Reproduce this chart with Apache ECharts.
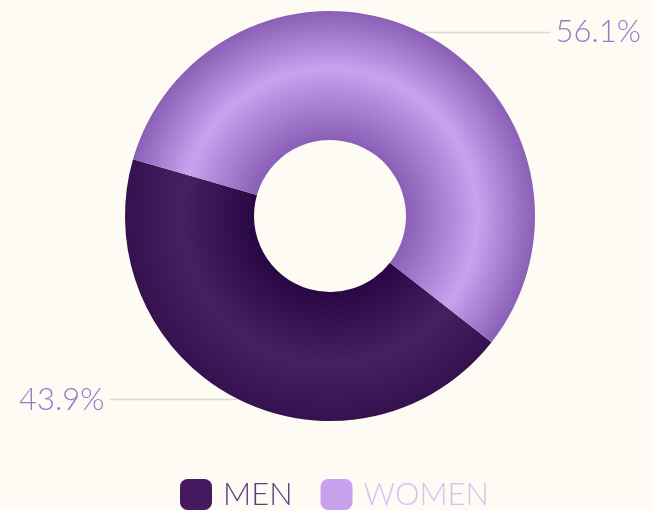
<!DOCTYPE html>
<html>
<head>
<meta charset="utf-8">
<script src="https://cdn.jsdelivr.net/npm/echarts@6/dist/echarts.min.js"></script>
<style>
html,body{margin:0;padding:0;background:#fdfbf4;}
#chart{width:652px;height:510px;}
</style>
</head>
<body>
<div id="chart"></div>
<script>
const categories = ['MEN', 'WOMEN'];
const values = [43.9, 56.1];
const legendTextColors = ['#5e3d7c', '#d9c0f1'];
const iconColors = ['#44195f', '#c8a0ec'];

const cx = 330, cy = 216, R = 205, r = 76;
function ring(inner, mid, outer) {
  return {
    type: 'radial', x: cx, y: cy, r: R, global: true,
    colorStops: [
      { offset: 0, color: inner },
      { offset: r / R, color: inner },
      { offset: 0.72, color: mid },
      { offset: 1, color: outer }
    ]
  };
}
const fills = [
  ring('#290744', '#46205f', '#36114f'),
  ring('#8a5fb6', '#c9a2ef', '#8a5fb6')
];

const chart = echarts.init(document.getElementById('chart'));
chart.setOption({
  backgroundColor: '#fdfbf4',
  animation: false,
  legend: {
    top: 479,
    left: 180,
    padding: 0,
    itemWidth: 32,
    itemHeight: 31,
    itemGap: 28,
    icon: 'roundRect',
    textStyle: { fontFamily: 'Lato', fontWeight: 300, fontSize: 31, padding: [0, 0, 0, 6] },
    data: categories.map((c, i) => ({
      name: c,
      itemStyle: { color: iconColors[i] },
      textStyle: { color: legendTextColors[i] }
    }))
  },
  series: [{
    type: 'pie',
    center: [cx, cy],
    radius: [r, R],
    startAngle: -38,
    clockwise: true,
    label: {
      show: true,
      formatter: p => p.value.toFixed(1) + '%',
      color: '#9a78c6',
      fontFamily: 'Lato',
      fontWeight: 300,
      fontSize: 31,
      distanceToLabelLine: 5
    },
    labelLine: {
      show: true,
      length: 1,
      length2: 127,
      lineStyle: { color: '#dcdad2', width: 1.5 }
    },
    itemStyle: { borderWidth: 0 },
    emphasis: { disabled: true },
    data: categories.map((c, i) => ({
      name: c,
      value: values[i],
      itemStyle: { color: fills[i] }
    }))
  }]
});
</script>
</body>
</html>
